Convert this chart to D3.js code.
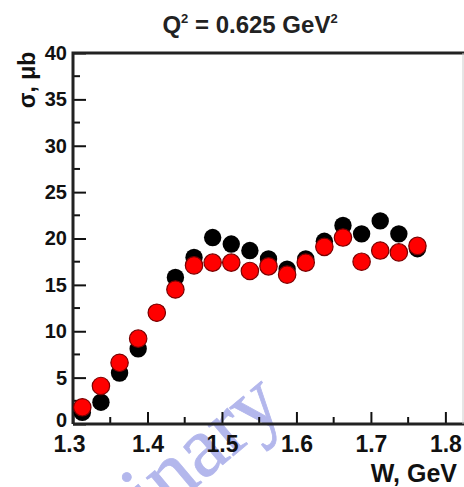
<!DOCTYPE html>
<html><head><meta charset="utf-8">
<script src="https://cdn.jsdelivr.net/npm/d3@7"></script>
<style>html,body{margin:0;padding:0;background:#fff;}svg{display:block;}</style>
</head><body>
<svg id="c" width="464" height="487"></svg>
<script>
const W = [1.3125,1.3375,1.3625,1.3875,1.4125,1.4375,1.4625,1.4875,1.5125,1.5375,1.5625,1.5875,1.6125,1.6375,1.6625,1.6875,1.7125,1.7375,1.7625];
const blackVals = [1.25,2.35,5.5,8.1,12.0,15.8,17.95,20.1,19.4,18.7,17.8,16.7,17.8,19.7,21.4,20.5,21.9,20.5,18.9];
const redVals = [1.8,4.1,6.6,9.2,12.0,14.5,17.1,17.4,17.4,16.5,17.0,16.1,17.4,19.1,20.1,17.5,18.7,18.5,19.2];
const xTicks = [1.3,1.4,1.5,1.6,1.7,1.8];
const yTicks = [0,5,10,15,20,25,30,35,40];
const titleMain = "Q", titleRest = " = 0.625 GeV";
const xLabel = "W, GeV", yLabel = "σ, μb", watermark = "Preliminary";

const svg = d3.select("#c");
const L = 73, R = 464, T = 53, B = 424;
const x = d3.scaleLinear().domain([1.3, 1.825]).range([L, R]);
const y = d3.scaleLinear().domain([0, 40]).range([B, T]);
const font = "'Liberation Sans', Arial, sans-serif";

// watermark
svg.append("text")
  .attr("transform", "translate(287,411) rotate(-40)")
  .attr("text-anchor", "end")
  .attr("font-family", "'Liberation Serif', 'Times New Roman', serif")
  .attr("font-size", 86)
  .attr("fill", "#b3b7ec")
  .attr("stroke", "#b3b7ec").attr("stroke-width", 0.8)
  .text(watermark);

// minor ticks
const xMinor = d3.range(1.35, 1.83, 0.1);
const yMinor = d3.range(2.5, 40, 5);
const g = svg.append("g");
g.selectAll(".xmn").data(xMinor).join("line")
  .attr("x1", d => x(d)).attr("x2", d => x(d)).attr("y1", B).attr("y2", B - 7)
  .attr("stroke", "#111").attr("stroke-width", 2);
g.selectAll(".ymn").data(yMinor).join("line")
  .attr("x1", L).attr("x2", L + 7).attr("y1", d => y(d)).attr("y2", d => y(d))
  .attr("stroke", "#111").attr("stroke-width", 2);

// axes via d3
const xAxis = d3.axisBottom(x).tickValues(xTicks).tickSize(-12).tickPadding(12).tickFormat(d3.format(".1f"));
const yAxis = d3.axisLeft(y).tickValues(yTicks).tickSize(-13).tickPadding(6).tickFormat(d3.format("d"));
const gx = svg.append("g").attr("transform", `translate(0,${B})`).call(xAxis);
const gy = svg.append("g").attr("transform", `translate(${L},0)`).call(yAxis);
gx.select(".domain").remove(); gy.select(".domain").remove();
gx.selectAll(".tick line").attr("stroke", "#111").attr("stroke-width", 2);
gy.selectAll(".tick line").attr("stroke", "#111").attr("stroke-width", 2);
gx.selectAll(".tick text").attr("font-family", font).attr("font-size", 23).attr("font-weight", "bold").attr("fill", "#111").attr("dy", "0.71em");
gy.selectAll(".tick text").attr("font-family", font).attr("font-size", 20).attr("font-weight", "bold").attr("fill", "#111");
gx.selectAll(".tick").filter(d => d === 1.3).select("text").attr("dx", -4);
gy.selectAll(".tick").filter(d => d === 0).select("text").attr("dy", "0.1em");

// frame
svg.append("path").attr("d", `M${L},${B}H${R}`).attr("stroke", "#222").attr("stroke-width", 3).attr("fill", "none");
svg.append("path").attr("d", `M${L},${B}V${T}H${R}`).attr("stroke", "#222").attr("stroke-width", 3).attr("fill", "none");
svg.append("path").attr("d", `M463,${T}V${B}`).attr("stroke", "#ccc").attr("stroke-width", 1).attr("fill", "none");

// points
svg.append("g").selectAll("circle").data(W.map((w,i)=>[w,blackVals[i]])).join("circle")
  .attr("cx", d => x(d[0])).attr("cy", d => y(d[1])).attr("r", 8.7).attr("fill", "#000");
svg.append("g").selectAll("circle").data(W.map((w,i)=>[w,redVals[i]])).join("circle")
  .attr("cx", d => x(d[0])).attr("cy", d => y(d[1])).attr("r", 8.7)
  .attr("fill", "#ff0000").attr("stroke", "#7a0000").attr("stroke-width", 1.2);

// title
const t = svg.append("text").attr("x", 250).attr("y", 33).attr("text-anchor", "middle")
  .attr("font-family", font).attr("font-size", 24).attr("font-weight", "bold").attr("fill", "#222");
t.append("tspan").text(titleMain);
t.append("tspan").attr("font-size", 13).attr("dy", -10).text("2");
t.append("tspan").attr("dy", 10).text(titleRest);
t.append("tspan").attr("font-size", 13).attr("dy", -10).text("2");

// axis labels
svg.append("text").attr("x", 457).attr("y", 482).attr("text-anchor", "end")
  .attr("font-family", font).attr("font-size", 25).attr("font-weight", "bold").attr("fill", "#111").text(xLabel);
svg.append("text").attr("transform", "translate(35,80) rotate(-90)").attr("text-anchor", "middle")
  .attr("font-family", font).attr("font-size", 23).attr("font-weight", "bold").attr("fill", "#111").text(yLabel);
</script>
</body></html>
